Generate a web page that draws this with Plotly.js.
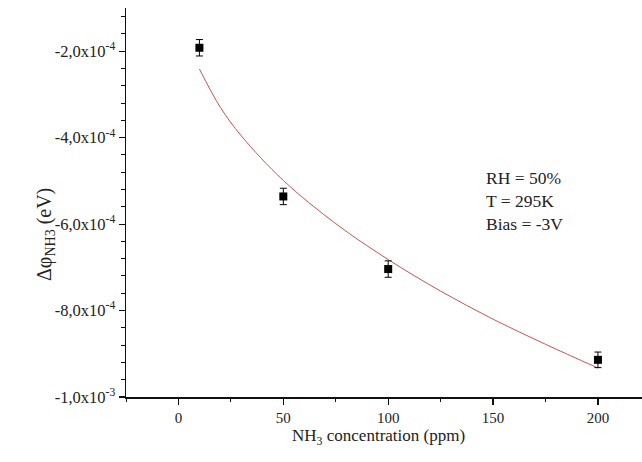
<!DOCTYPE html>
<html>
<head>
<meta charset="utf-8">
<script src="https://cdn.plot.ly/plotly-3.0.1.min.js"></script>
<style>html,body{margin:0;padding:0;background:#fff;}#chart{width:642px;height:462px;}</style>
</head>
<body>
<div id="chart"></div>
<script>
// Measured data (NH3 concentration in ppm, work function change in eV)
const concentration = [10, 50, 100, 200];
const deltaPhi = [-1.92e-4, -5.36e-4, -7.04e-4, -9.14e-4];
const deltaPhiErr = [1.9e-5, 1.9e-5, 1.9e-5, 1.8e-5];

// Fit curve, values
const fitX = [10, 20, 30, 50, 75, 100, 125, 150, 175, 200];
const fitY = [-2.41e-4, -3.30e-4, -3.96e-4, -4.99e-4, -5.99e-4, -6.82e-4, -7.55e-4, -8.20e-4, -8.78e-4, -9.33e-4];

// Tick labels
const xTickVals = [0, 50, 100, 150, 200];
const xTickText = ['0', '50', '100', '150', '200'];
const yTickVals = [-1.0e-3, -8.0e-4, -6.0e-4, -4.0e-4, -2.0e-4];
const yTickText = ['-1,0x10<sup>-3</sup>', '-8,0x10<sup>-4</sup>', '-6,0x10<sup>-4</sup>', '-4,0x10<sup>-4</sup>', '-2,0x10<sup>-4</sup>'];

const serif = 'Liberation Serif, Times New Roman, serif';

const traces = [
  {
    x: fitX, y: fitY, type: 'scatter', mode: 'lines',
    line: {color: 'rgb(208,80,80)', width: 1, shape: 'spline'},
    hoverinfo: 'skip', showlegend: false
  },
  {
    x: concentration, y: deltaPhi, type: 'scatter', mode: 'markers',
    marker: {symbol: 'square', size: 8, color: '#000'},
    error_y: {type: 'data', array: deltaPhiErr, visible: true, color: '#000', thickness: 1, width: 3.5},
    showlegend: false
  }
];

const layout = {
  width: 642, height: 462,
  margin: {l: 126, r: 0, t: 8, b: 65},
  paper_bgcolor: '#fff', plot_bgcolor: '#fff',
  font: {family: serif, color: '#111', size: 15},
  showlegend: false,
  xaxis: {
    range: [-25, 221],
    showgrid: false, zeroline: false,
    showline: true, linecolor: '#111', linewidth: 1.5,
    ticks: 'outside', ticklen: 6, tickwidth: 1.2, tickcolor: '#111',
    tickvals: xTickVals, ticktext: xTickText,
    tickfont: {family: serif, size: 15, color: '#222'},
    minor: {dtick: 25, tick0: 0, ticks: 'outside', ticklen: 3, tickwidth: 1, tickcolor: '#111', showgrid: false}
  },
  yaxis: {
    range: [-1.0e-3, -1.0e-4],
    showgrid: false, zeroline: false,
    showline: true, linecolor: '#111', linewidth: 1.5,
    ticks: 'outside', ticklen: 6, tickwidth: 1.2, tickcolor: '#111',
    tickvals: yTickVals, ticktext: yTickText,
    tickfont: {family: serif, size: 16.5, color: '#222'},
    minor: {dtick: 4e-5, tick0: -1.0e-3, ticks: 'outside', ticklen: 4, tickwidth: 1, tickcolor: '#111', showgrid: false}
  },
  annotations: [
    {
      xref: 'paper', yref: 'paper',
      x: (378 - 126) / 516, y: (397 - 437) / 389,
      xanchor: 'center', yanchor: 'middle', showarrow: false,
      text: 'NH<sub>3</sub> concentration (ppm)',
      font: {family: serif, size: 17, color: '#222'}
    },
    {
      xref: 'paper', yref: 'paper',
      x: (45 - 126) / 516, y: (397 - 235) / 389,
      xanchor: 'center', yanchor: 'middle', showarrow: false,
      textangle: -90,
      text: 'Δφ<sub>NH3</sub> (eV)',
      font: {family: serif, size: 20, color: '#222'}
    },
    {
      xref: 'paper', yref: 'paper',
      x: (484 - 126) / 516, y: (397 - 166) / 389,
      xanchor: 'left', yanchor: 'top', align: 'left',
      showarrow: false,
      text: 'RH = 50%<br>T = 295K<br>Bias = -3V',
      font: {family: serif, size: 17.5, color: '#222'}
    }
  ]
};

Plotly.newPlot('chart', traces, layout, {displayModeBar: false, staticPlot: true});
</script>
</body>
</html>
